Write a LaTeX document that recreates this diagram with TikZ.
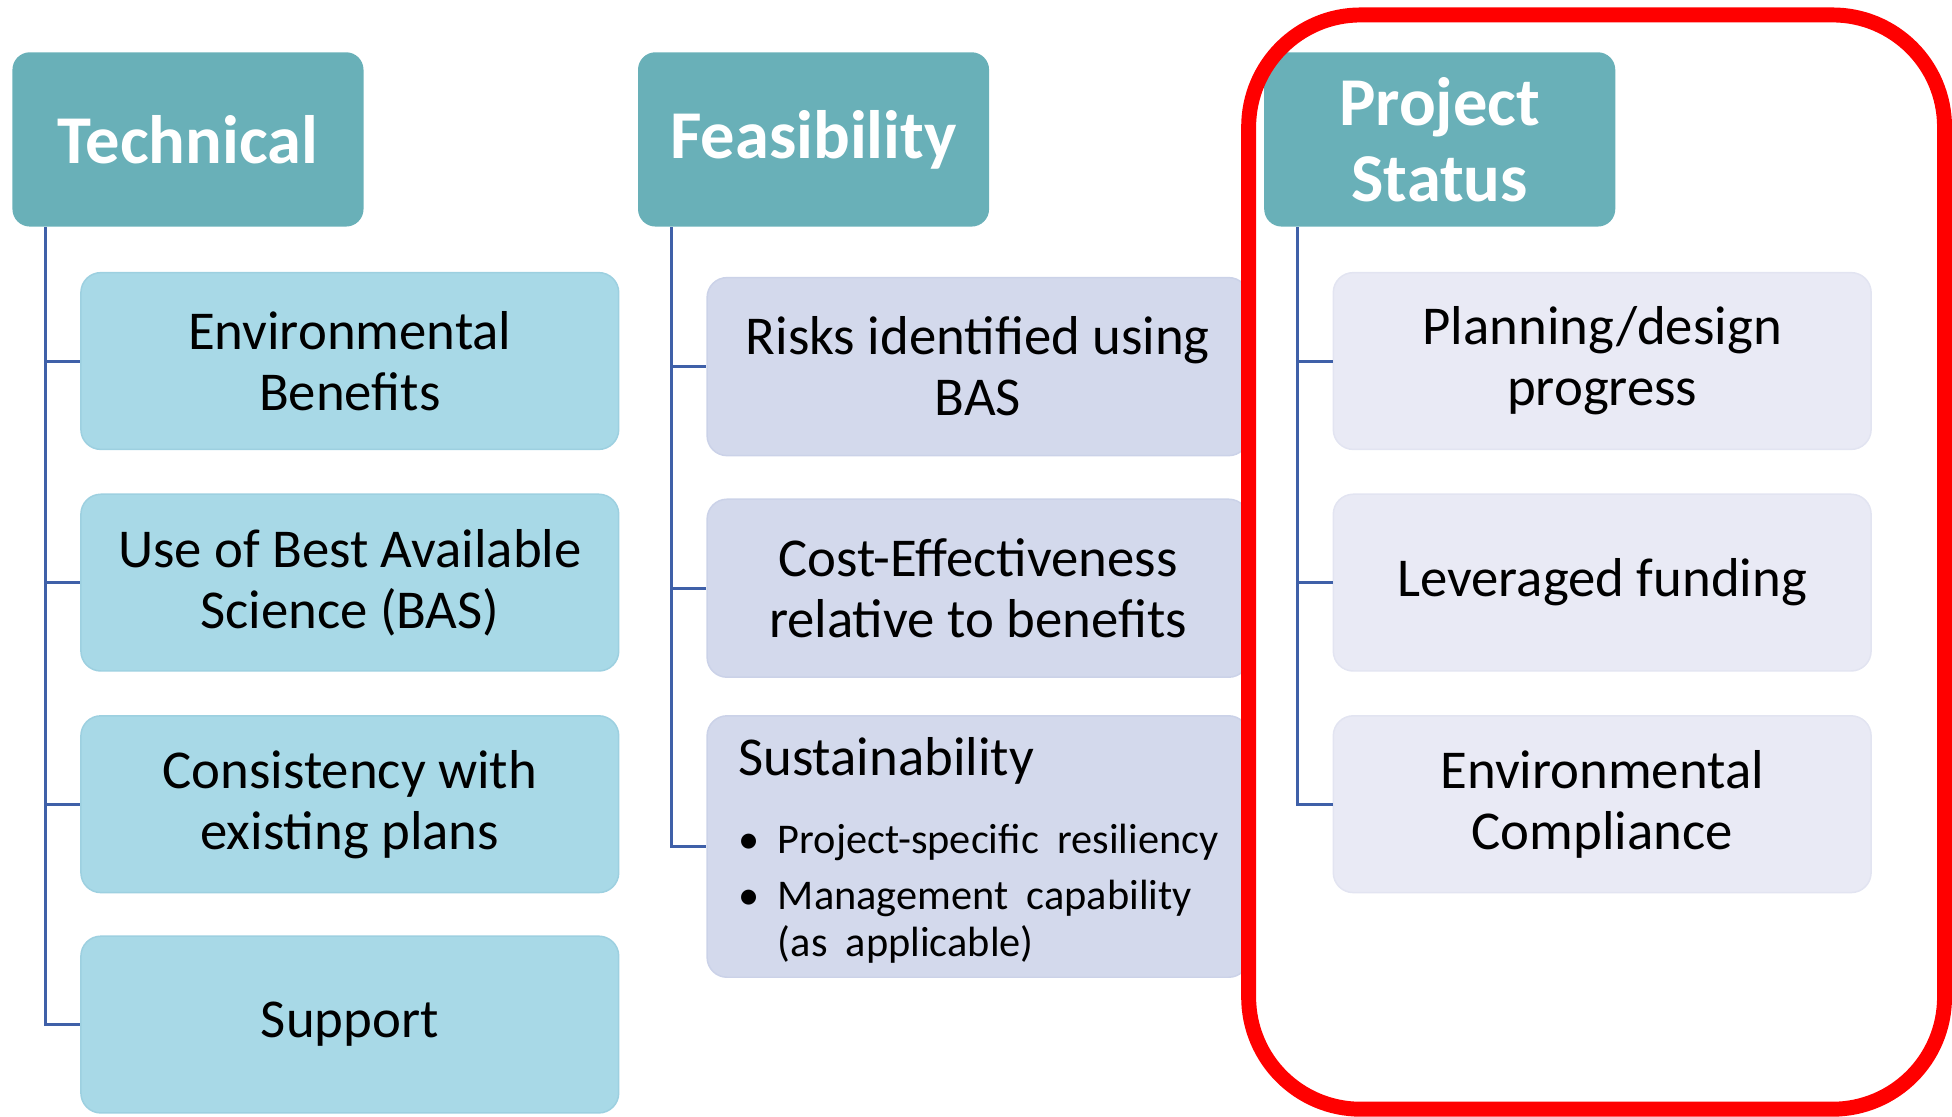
\documentclass[tikz,border=0pt]{standalone}
\usepackage{fontspec}
\setmainfont{Carlito}

\definecolor{headfill}{HTML}{69B0B8}
\definecolor{techfill}{HTML}{A8D9E7}
\definecolor{techline}{HTML}{9DD0E0}
\definecolor{feasfill}{HTML}{D3D9EC}
\definecolor{feasline}{HTML}{CBD2E8}
\definecolor{statfill}{HTML}{E9EAF5}
\definecolor{statline}{HTML}{E2E4F1}
\definecolor{linkcol}{HTML}{3F60A8}

\begin{document}
\begin{tikzpicture}[x = 0.5pt, y = -0.5pt,
	head/.style = {fill = headfill, rounded corners = 7pt, minimum width = 141pt, minimum height = 70pt, inner sep = 0pt, align = center, text = white, font = \bfseries\fontsize{27.5}{30.5}\selectfont},
	itembox/.style = {rounded corners = 8pt, minimum width = 216pt, minimum height = 71pt, inner sep = 0pt, align = center, line width = 0.6pt, font = \fontsize{22}{24.5}\selectfont},
	techbox/.style = {itembox, fill = techfill, draw = techline},
	feasbox/.style = {itembox, fill = feasfill, draw = feasline, minimum width = 217.5pt, minimum height = 71.5pt},
	statbox/.style = {itembox, fill = statfill, draw = statline},
	conn/.style = {draw = linkcol, line width = 1.2pt}]
	
	\useasboundingbox (0, 0) rectangle (1568, 897);
	
	% Column headers
	
	\node [head] (tech) at (151, 112) {Technical};
	\node [head] (feas) at (653.5, 112) {Feasibility};
	\node [head] (stat) at (1156.5, 112) {Project\\Status};
	
	% Technical column
	
	\node [techbox] (tech1) at (281, 290) {Environmental\\Benefits};
	\node [techbox] (tech2) at (281, 468) {Use of Best Available\\Science (BAS)};
	\node [techbox] (tech3) at (281, 646) {Consistency with\\existing plans};
	\node [techbox] (tech4) at (281, 823) {Support};
	
	% Feasibility column
	
	\node [feasbox] (feas1) at (785.5, 294.5) {Risks identified using\\BAS};
	\node [feasbox] (feas2) at (785.5, 472.5) {Cost-Effectiveness\\relative to benefits};
	\node [feasbox, minimum height = 105pt, text width = 192.5pt, align = left] (feas3) at (785.5, 680)
	{\fontsize{17}{19}\selectfont
		\begin{tabular}{@{}l@{\hspace{7.5pt}}l@{}}
			\multicolumn{2}{@{}l}{\rule{0pt}{21.5pt}\fontsize{22}{24.5}\selectfont Sustainability}\\[12pt]
			\textbullet & Project-specific resiliency\\[3.5pt]
			\textbullet & Management capability\\
			& (as applicable)
		\end{tabular}};
	
	% Project status column
	
	\node [statbox] (stat1) at (1287, 290) {Planning/design\\progress};
	\node [statbox] (stat2) at (1287, 468) {Leveraged funding};
	\node [statbox] (stat3) at (1287, 646) {Environmental\\Compliance};
	
	% Connectors
	
	\foreach \i in {1, ..., 4}
		\draw [conn] ([xshift = 13.5pt] tech.south west) |- (tech\i.west);
	
	\foreach \i in {1, 2, 3}
	{
		\draw [conn] ([xshift = 13.5pt] feas.south west) |- (feas\i.west);
		\draw [conn] ([xshift = 13.5pt] stat.south west) |- (stat\i.west);
	}
	
	% Red frame round project status
	
	\draw [red, line width = 6pt, rounded corners = 45pt] (1003, 12) rectangle (1562, 891);
	
\end{tikzpicture}
\end{document}
